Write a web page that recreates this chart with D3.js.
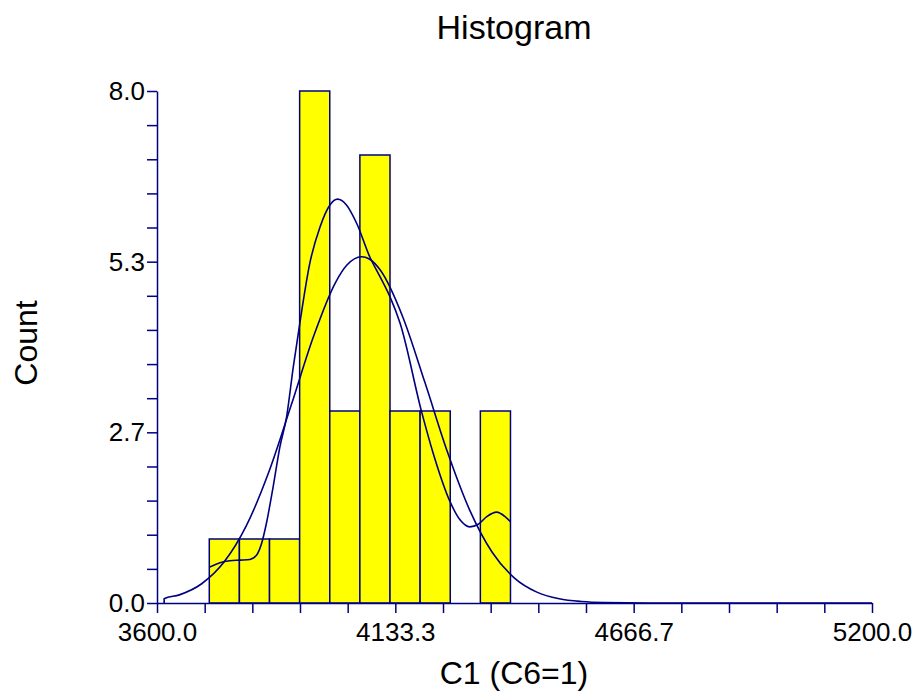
<!DOCTYPE html>
<meta charset="utf-8">
<script src="https://d3js.org/d3.v7.min.js"></script>
<style>
  body { margin: 0; background: #fff; }
  text { font-family: "Liberation Sans", Arial, sans-serif; }
</style>
<div id="my_dataviz"></div>
<script>

// histogram bins (left edge of first bin, bin width, counts)
var binStart = 3717;
var binWidth = 67.4;
var binCounts = [1, 1, 1, 8, 3, 7, 3, 3, 0, 3];

// fitted normal curve
var normalX = [3616, 3616, 3650, 3700, 3750, 3800, 3850, 3900, 3950, 4000, 4025, 4058, 4075, 4100, 4150, 4200, 4250, 4300, 4350, 4400, 4450, 4500, 4550, 4600, 4700, 5200];
var normalY = [0, 0.066, 0.127, 0.301, 0.639, 1.208, 2.042, 3.084, 4.160, 5.015, 5.28, 5.41, 5.375, 5.199, 4.470, 3.436, 2.359, 1.447, 0.793, 0.389, 0.170, 0.066, 0.023, 0.007, 0.0005, 0];

// kernel density curve
var kernelX = [3717, 3741, 3763, 3786, 3808, 3823, 3834, 3845, 3860, 3875, 3890, 3905, 3920, 3942, 3965, 3987, 4004, 4024, 4047, 4076, 4099, 4121, 4144, 4192, 4218, 4256, 4278, 4300, 4319, 4338, 4360, 4379, 4391];
var kernelY = [0.56, 0.63, 0.66, 0.67, 0.68, 0.75, 0.93, 1.25, 1.82, 2.44, 2.91, 3.69, 4.39, 5.31, 5.88, 6.22, 6.31, 6.22, 5.93, 5.41, 5.10, 4.79, 4.37, 2.99, 2.34, 1.58, 1.30, 1.19, 1.23, 1.35, 1.42, 1.35, 1.27];

// axis ticks (labels on every 5th)
var xTicks = [3600, 3706.7, 3813.3, 3920, 4026.7, 4133.3, 4240, 4346.7, 4453.3, 4560, 4666.7, 4773.3, 4880, 4986.7, 5093.3, 5200];
var yTicks = [0, 0.533, 1.067, 1.6, 2.133, 2.667, 3.2, 3.733, 4.267, 4.8, 5.333, 5.867, 6.4, 6.933, 7.467, 8];

var navy = "#000080";

var margin = {top: 91, right: 45, bottom: 89, left: 157},
    width = 917 - margin.left - margin.right,
    height = 692 - margin.top - margin.bottom;

var root = d3.select("#my_dataviz")
  .append("svg")
    .attr("width", 917)
    .attr("height", 692);

var svg = root.append("g")
    .attr("transform", "translate(" + margin.left + "," + margin.top + ")");

var x = d3.scaleLinear().domain([3600, 5200]).range([0, width]);
var y = d3.scaleLinear().domain([0, 8]).range([height, 0]);

// bars (empty bins are not drawn)
var bars = binCounts.map(function(c, i) {
    return {lo: binStart + i * binWidth, hi: binStart + (i + 1) * binWidth, count: c};
  })
  .filter(function(b) { return b.count > 0; });

svg.selectAll("rect.bin")
  .data(bars)
  .enter()
  .append("rect")
    .attr("class", "bin")
    .attr("x", function(d) { return x(d.lo); })
    .attr("y", function(d) { return y(d.count); })
    .attr("width", function(d) { return x(d.hi) - x(d.lo); })
    .attr("height", function(d) { return y(0) - y(d.count); })
    .attr("fill", "#ffff00")
    .attr("stroke", navy)
    .attr("stroke-width", 1.5);

// curves
var line = d3.line()
  .x(function(d) { return x(d[0]); })
  .y(function(d) { return y(d[1]); })
  .curve(d3.curveMonotoneX);

svg.append("path")
  .datum(d3.zip(normalX, normalY))
  .attr("fill", "none")
  .attr("stroke", navy)
  .attr("stroke-width", 1.6)
  .attr("d", line);

svg.append("path")
  .datum(d3.zip(kernelX, kernelY))
  .attr("fill", "none")
  .attr("stroke", navy)
  .attr("stroke-width", 1.6)
  .attr("d", line);

// axes
var xAxis = svg.append("g")
  .attr("transform", "translate(0," + height + ")")
  .call(d3.axisBottom(x)
    .tickValues(xTicks)
    .tickSize(10)
    .tickSizeOuter(0)
    .tickPadding(10)
    .tickFormat(function(d, i) { return i % 5 === 0 ? d3.format(".1f")(d) : ""; }));

var yAxis = svg.append("g")
  .call(d3.axisLeft(y)
    .tickValues(yTicks)
    .tickSize(10)
    .tickSizeOuter(0)
    .tickPadding(2)
    .tickFormat(function(d, i) { return i % 5 === 0 ? d3.format(".1f")(d) : ""; }));

[xAxis, yAxis].forEach(function(a) {
  a.selectAll("path, line").attr("stroke", navy).attr("stroke-width", 1.5);
  a.selectAll("text").attr("fill", "#000").style("font-size", "26px");
});

// titles
root.append("text")
  .attr("x", 514)
  .attr("y", 39)
  .attr("text-anchor", "middle")
  .style("font-size", "34px")
  .text("Histogram");

root.append("text")
  .attr("x", 514)
  .attr("y", 684)
  .attr("text-anchor", "middle")
  .style("font-size", "32px")
  .text("C1 (C6=1)");

root.append("text")
  .attr("transform", "translate(37,343) rotate(-90)")
  .attr("text-anchor", "middle")
  .style("font-size", "32px")
  .text("Count");

</script>
